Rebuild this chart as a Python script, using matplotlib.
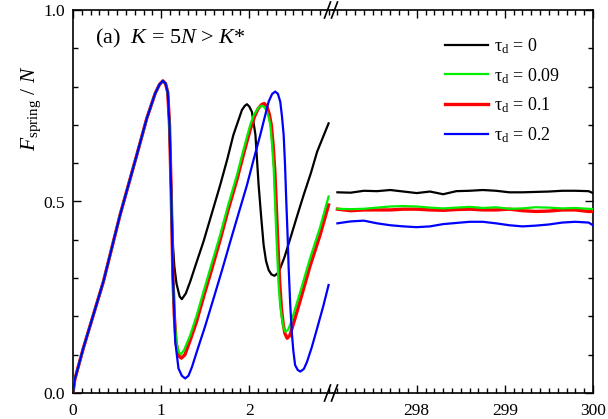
import matplotlib
matplotlib.use('Agg')
import matplotlib.pyplot as plt
from matplotlib.ticker import MultipleLocator, FormatStrFormatter
from matplotlib.lines import Line2D

plt.rcParams['font.family'] = ['Liberation Serif', 'DejaVu Serif']
plt.rcParams['mathtext.fontset'] = 'custom'
plt.rcParams['mathtext.rm'] = 'Liberation Serif'
plt.rcParams['mathtext.it'] = 'Liberation Serif:italic'

# ---------------- data ----------------
labels = ['τ$_{\\rm d}$ = 0', 'τ$_{\\rm d}$ = 0.09', 'τ$_{\\rm d}$ = 0.1', 'τ$_{\\rm d}$ = 0.2']
colors = ['#000000', '#00ee00', '#ff0000', '#0000ff']

# common initial loading (all curves coincide)
rise_x = [0, 0.02, 0.117, 0.345, 0.534, 0.723, 0.837, 0.932, 0.98, 1.019, 1.05, 1.075, 1.095, 1.114]
rise_y = [0, 0.035, 0.117, 0.291, 0.465, 0.621, 0.717, 0.782, 0.805, 0.815, 0.808, 0.785, 0.70, 0.526]

# transient tails (t < 3)
black_x = [1.13, 1.15, 1.175, 1.21, 1.235, 1.28, 1.33, 1.40, 1.48, 1.57, 1.67, 1.75, 1.82, 1.917,
           1.95, 1.974, 2.0, 2.03, 2.07, 2.106, 2.135, 2.163, 2.19, 2.22, 2.25, 2.284, 2.32, 2.352,
           2.40, 2.466, 2.54, 2.617, 2.70, 2.77, 2.84, 2.90]
black_y = [0.40, 0.33, 0.285, 0.252, 0.245, 0.26, 0.291, 0.34, 0.395, 0.465, 0.543, 0.61, 0.674, 0.739,
           0.750, 0.754, 0.748, 0.734, 0.674, 0.543, 0.46, 0.386, 0.345, 0.321, 0.31, 0.306, 0.312, 0.326,
           0.355, 0.404, 0.46, 0.517, 0.575, 0.63, 0.67, 0.704]

green_x = [1.133, 1.15, 1.17, 1.195, 1.224, 1.26, 1.33, 1.40, 1.48, 1.57, 1.67, 1.76, 1.86, 1.94,
           2.011, 2.05, 2.087, 2.12, 2.144, 2.175, 2.20, 2.22, 2.239, 2.258, 2.277, 2.292, 2.307,
           2.333, 2.35, 2.37, 2.39, 2.41, 2.44, 2.47, 2.50, 2.58, 2.69, 2.80, 2.90]
green_y = [0.308, 0.20, 0.14, 0.108, 0.101, 0.112, 0.151, 0.20, 0.264, 0.335, 0.413, 0.49, 0.569, 0.64,
           0.70, 0.725, 0.739, 0.748, 0.75, 0.746, 0.734, 0.72, 0.70, 0.65, 0.587, 0.50, 0.413,
           0.282, 0.23, 0.195, 0.17, 0.16, 0.165, 0.182, 0.204, 0.265, 0.352, 0.43, 0.513]

red_x = [1.133, 1.15, 1.17, 1.20, 1.23, 1.27, 1.33, 1.40, 1.48, 1.57, 1.67, 1.76, 1.86, 1.94,
         2.011, 2.06, 2.10, 2.14, 2.17, 2.20, 2.225, 2.25, 2.27, 2.29, 2.305, 2.32, 2.345, 2.365,
         2.385, 2.405, 2.43, 2.46, 2.50, 2.58, 2.69, 2.80, 2.90]
red_y = [0.308, 0.20, 0.13, 0.097, 0.091, 0.10, 0.138, 0.185, 0.25, 0.32, 0.40, 0.478, 0.557, 0.628,
         0.688, 0.722, 0.742, 0.753, 0.756, 0.748, 0.73, 0.70, 0.65, 0.58, 0.50, 0.413, 0.29, 0.22,
         0.18, 0.155, 0.143, 0.15, 0.18, 0.243, 0.332, 0.41, 0.491]

blue_x = [1.133, 1.16, 1.197, 1.235, 1.273, 1.31, 1.35, 1.405, 1.50, 1.595, 1.69, 1.784, 1.88, 1.974,
          2.05, 2.125, 2.175, 2.22, 2.26, 2.295, 2.325, 2.352, 2.372, 2.39, 2.405, 2.42, 2.435, 2.447,
          2.465, 2.485, 2.50, 2.52, 2.55, 2.58, 2.62, 2.656, 2.71, 2.77, 2.84, 2.90]
blue_y = [0.308, 0.134, 0.064, 0.045, 0.038, 0.045, 0.068, 0.108, 0.175, 0.247, 0.32, 0.395, 0.47, 0.543,
          0.61, 0.674, 0.72, 0.761, 0.781, 0.787, 0.781, 0.76, 0.72, 0.674, 0.60, 0.50, 0.41, 0.326,
          0.23, 0.151, 0.11, 0.073, 0.06, 0.056, 0.063, 0.082, 0.12, 0.169, 0.227, 0.282]

# steady state (t near 300)
x_right = [297.1, 297.25, 297.4, 297.55, 297.7, 297.85, 298.0, 298.15, 298.3, 298.45, 298.6, 298.75,
           298.9, 299.05, 299.2, 299.35, 299.5, 299.65, 299.8, 299.95, 300.0]
black_r = [0.524, 0.523, 0.528, 0.527, 0.530, 0.526, 0.522, 0.526, 0.519, 0.527, 0.528, 0.530,
           0.528, 0.524, 0.524, 0.525, 0.526, 0.528, 0.528, 0.527, 0.522]
green_r = [0.481, 0.480, 0.481, 0.484, 0.487, 0.488, 0.487, 0.484, 0.482, 0.484, 0.486, 0.483,
           0.485, 0.481, 0.482, 0.485, 0.484, 0.482, 0.483, 0.481, 0.480]
red_r = [0.480, 0.476, 0.478, 0.478, 0.478, 0.480, 0.480, 0.478, 0.477, 0.479, 0.480, 0.478,
         0.478, 0.480, 0.476, 0.474, 0.475, 0.478, 0.478, 0.474, 0.474]
blue_r = [0.443, 0.448, 0.450, 0.443, 0.438, 0.435, 0.433, 0.435, 0.441, 0.444, 0.447, 0.447,
          0.443, 0.438, 0.435, 0.437, 0.440, 0.445, 0.447, 0.445, 0.438]

left_series = [(rise_x + black_x, rise_y + black_y),
               (rise_x + green_x, rise_y + green_y),
               (rise_x + red_x, rise_y + red_y),
               (rise_x + blue_x, rise_y + blue_y)]
right_series = [black_r, green_r, red_r, blue_r]
widths = [1.6, 1.6, 2.4, 1.6]
zorders = [2, 4, 3, 5]

# ---------------- figure ----------------
fig = plt.figure(figsize=(6.08, 4.19), dpi=100)
L, R, B, T = 73 / 608, 593 / 608, 1 - 393 / 419, 1 - 10 / 419
W = (R - L) / 2
ax1 = fig.add_axes([L, B, W, T - B])
ax2 = fig.add_axes([L + W, B, W, T - B])

for i in range(4):
    xs, ys = left_series[i]
    ax1.plot(xs, ys, color=colors[i], lw=widths[i], zorder=zorders[i])
    ax2.plot(x_right, right_series[i], color=colors[i], lw=widths[i], zorder=zorders[i])

ax1.set_xlim(0, 2.95)
ax2.set_xlim(297.05, 300)
for ax in (ax1, ax2):
    ax.set_ylim(0, 1.0)
    ax.yaxis.set_major_locator(MultipleLocator(0.5))
    ax.yaxis.set_minor_locator(MultipleLocator(0.1))
    ax.xaxis.set_major_locator(MultipleLocator(1))
    ax.xaxis.set_minor_locator(MultipleLocator(0.1))
    ax.tick_params(which='both', direction='in', top=True, labelsize=12.5, width=1.0)
    ax.tick_params(axis='x', which='major', pad=7)
    ax.tick_params(axis='y', which='major', pad=6)
    ax.tick_params(which='major', length=6)
    ax.tick_params(which='minor', length=3.5)
    for s in ax.spines.values():
        s.set_linewidth(1.2)

ax1.spines['right'].set_visible(False)
ax2.spines['left'].set_visible(False)
ax1.tick_params(which='both', right=False)
ax2.tick_params(which='both', left=False, labelleft=False, right=True)
ax1.yaxis.set_major_formatter(FormatStrFormatter('%.1f'))
ax1.xaxis.set_major_formatter(FormatStrFormatter('%d'))
ax2.xaxis.set_major_formatter(FormatStrFormatter('%d'))

ax1.set_ylabel('$F_{\\rm spring}$ / $N$', fontsize=15.5)
ax1.yaxis.set_label_coords(-0.115, 0.744)

ax1.text(0.085, 0.926, '(a)  $K$ = 5$N$ > $K$*', transform=ax1.transAxes,
         fontsize=16, ha='left', va='center')

handles = [Line2D([], [], color=colors[i], lw=widths[i]) for i in range(4)]
fig.legend(handles, labels, loc='upper left', bbox_to_anchor=(445 / 608, 1 - 36 / 419),
           frameon=False, fontsize=13, handlelength=2.4, handletextpad=0.3,
           labelspacing=0.56, borderpad=0, borderaxespad=0)

# axis-break marks
bx = 331 / 608
for yb in (T, B):
    for off in (-3.5, 3.5):
        cx = bx + off / 608
        fig.add_artist(Line2D([cx - 3 / 608, cx + 3 / 608], [yb - 8 / 419, yb + 8 / 419],
                              transform=fig.transFigure, color='black', lw=1.2))

fig.savefig('out.png', dpi=100)
